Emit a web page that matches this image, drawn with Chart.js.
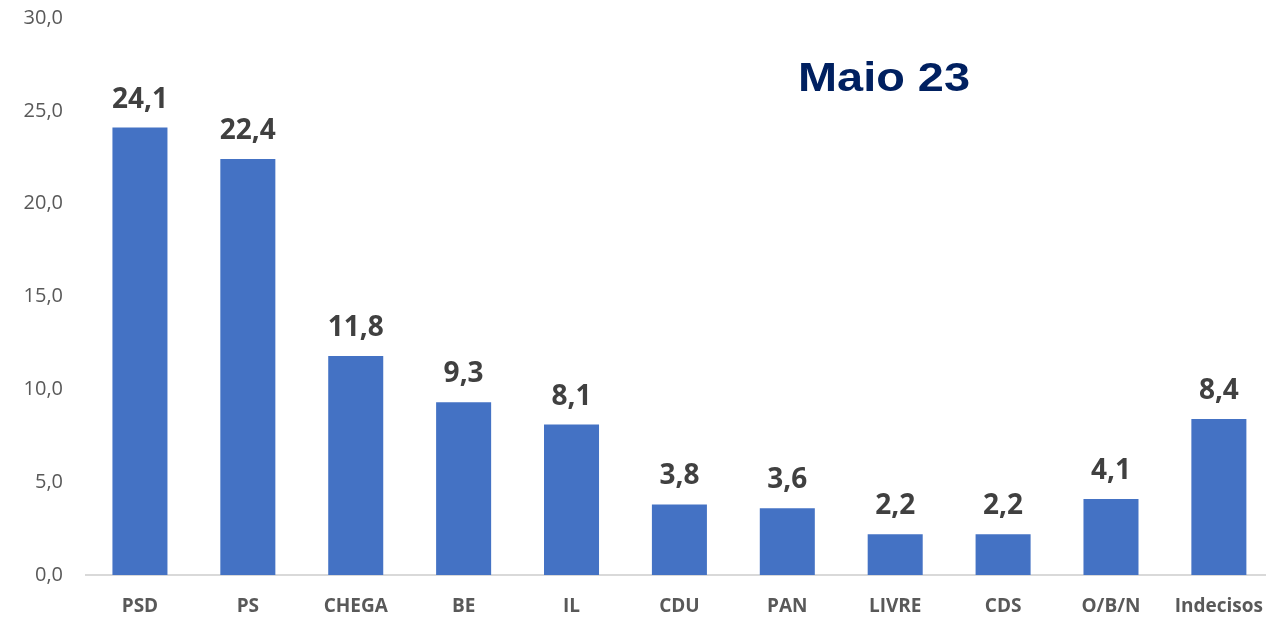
<!DOCTYPE html>
<html>
<head>
<meta charset="utf-8">
<script src="https://cdn.jsdelivr.net/npm/chart.js@4/dist/chart.umd.min.js"></script>
<style>
  html, body { margin: 0; padding: 0; background: #fff; overflow: hidden; }
  #wrap { width: 1283px; height: 635px; margin-top: -17px; position: relative; }
</style>
</head>
<body>
<div id="wrap"><canvas id="chart"></canvas></div>
<script>
const parties = ["PSD", "PS", "CHEGA", "BE", "IL", "CDU", "PAN", "LIVRE", "CDS", "O/B/N", "Indecisos"];
const votes = [24.1, 22.4, 11.8, 9.3, 8.1, 3.8, 3.6, 2.2, 2.2, 4.1, 8.4];
const chartTitle = "Maio 23";

const fmt = (v) => v.toFixed(1).replace(".", ",");

// value labels above each bar + title text
const barLabels = {
  id: "barLabels",
  afterDatasetsDraw(chart) {
    const ctx = chart.ctx;
    const meta = chart.getDatasetMeta(0);
    ctx.save();
    ctx.font = "bold 28px 'Open Sans'";
    ctx.fillStyle = "#404040";
    ctx.textAlign = "center";
    ctx.textBaseline = "bottom";
    meta.data.forEach((bar, i) => {
      ctx.fillText(fmt(votes[i]), bar.x, bar.y - 14);
    });
    ctx.restore();

    ctx.save();
    ctx.font = "bold 41px 'Liberation Sans'";
    const w = ctx.measureText(chartTitle).width;
    ctx.translate(884, 91 + 17);
    ctx.scale(172 / w, 1);
    ctx.fillStyle = "#002060";
    ctx.textAlign = "center";
    ctx.textBaseline = "alphabetic";
    ctx.fillText(chartTitle, 0, 0);
    ctx.restore();
  }
};

new Chart(document.getElementById("chart"), {
  type: "bar",
  data: {
    labels: parties,
    datasets: [
      {
        data: votes,
        backgroundColor: "#4472C4",
        borderWidth: 0,
        barPercentage: 0.51,
        categoryPercentage: 1,
      },
    ],
  },
  options: {
    responsive: true,
    maintainAspectRatio: false,
    animation: false,
    layout: { padding: 0 },
    scales: {
      y: {
        min: 0,
        max: 30,
        afterFit: (s) => { s.width = 86; },
        border: { display: false },
        grid: { display: false, drawTicks: false },
        ticks: {
          stepSize: 5,
          padding: 23,
          color: "#595959",
          font: { family: "'Open Sans'", size: 20 },
          callback: (v) => fmt(v),
        },
      },
      x: {
        afterFit: (s) => { s.height = 43; },
        border: { display: true, color: "#D9D9D9", width: 2 },
        grid: { display: false, drawTicks: false },
        ticks: {
          padding: 20,
          color: "#595959",
          font: { family: "'Open Sans'", size: 19, weight: "bold" },
        },
      },
    },
    plugins: {
      legend: { display: false },
      tooltip: { enabled: false },
    },
  },
  plugins: [barLabels],
});
</script>
</body>
</html>
